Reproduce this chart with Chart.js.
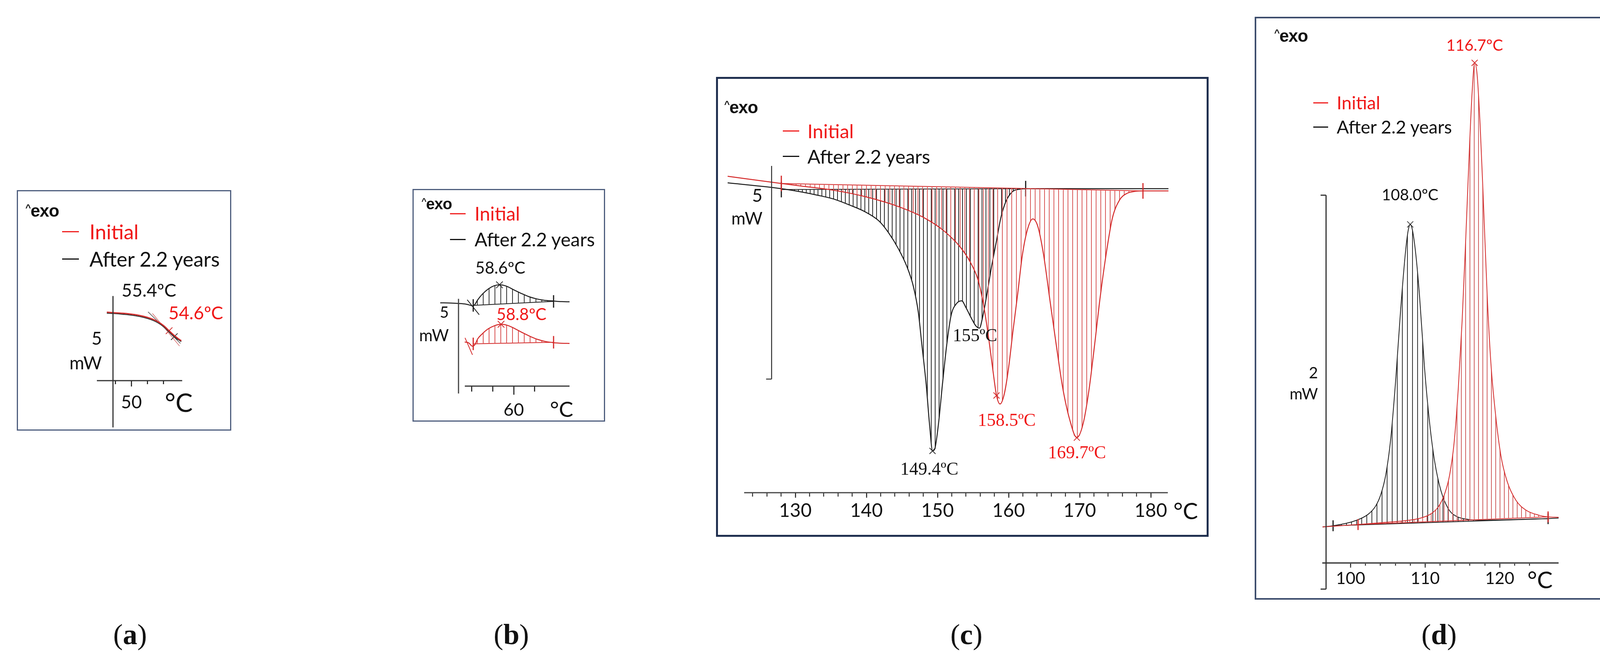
<!DOCTYPE html>
<html>
<head>
<meta charset="utf-8">
<script src="https://cdn.jsdelivr.net/npm/chart.js@4.4.1/dist/chart.umd.min.js"></script>
<style>
  body { margin: 0; background: #fff; width: 4150px; height: 1688px; position: relative; overflow: hidden; font-family: Lato, "Liberation Sans", sans-serif; }
  canvas { position: absolute; }
  .box { position: absolute; box-sizing: border-box; pointer-events: none; }
  .t { position: absolute; white-space: nowrap; line-height: 1; }
  .dash { position: absolute; height: 3px; }
  .exo { font-family: "Liberation Sans", sans-serif; font-weight: bold; letter-spacing: -1px; }
  .exo span { font-size: 0.55em; vertical-align: 0.6em; }
  .pl { font-family: "Liberation Serif", serif; }
</style>
</head>
<body>
<script>
// ---------- (a) ----------
const tempA = [46.92, 47.80, 48.90, 50.44, 51.54, 52.42, 53.30, 54.07, 54.73, 55.38, 55.93, 56.26];
const initialA = [0.02, 0, -0.02, -0.073, -0.14, -0.22, -0.34, -0.5, -0.687, -0.867, -1.0, -1.067];
const agedA = [-0.02, -0.033, -0.06, -0.113, -0.18, -0.26, -0.38, -0.54, -0.727, -0.913, -1.033, -1.1];
const tangentInitialA = [[52.64, -0.03], [56.04, -1.27]];
const tangentAgedA = [[52.09, 0.03], [56.15, -1.17]];
const peaksA = [55.4, 54.6];
const peakLabelsA = ['55.4ºC', '54.6ºC'];
const majorTicksA = [50];

// ---------- (b) ----------
const tempB_aged = [53.0, 54.0, 54.71, 55.43, 55.86, 56.11, 56.29, 56.57, 57.0, 57.57, 58.14, 58.64, 59.29, 60.0, 60.71, 61.43, 62.14, 62.86, 63.79, 64.57, 65.31];
const flowB_aged = [-0.032, -0.042, -0.063, -0.10, -0.16, -0.20, -0.12, 0.127, 0.42, 0.70, 0.87, 0.92, 0.85, 0.655, 0.465, 0.296, 0.18, 0.106, 0.063, 0.032, 0.021];
const tempB_initial = [55.33, 55.71, 56.07, 56.29, 56.57, 57.0, 57.57, 58.14, 58.79, 59.43, 60.14, 60.86, 61.57, 62.29, 63.0, 63.79, 64.57, 65.31];
const flowB_initial = [-2.10, -2.15, -2.32, -2.25, -1.934, -1.67, -1.406, -1.247, -1.163, -1.226, -1.406, -1.617, -1.808, -1.966, -2.072, -2.135, -2.167, -2.178];
const baseB_aged = [[56.14, -0.169], [63.79, 0.042]];
const baseB_initial = [[56.14, -2.199], [63.79, -2.114]];
const tangentB_aged = [[55.57, 0.13], [56.71, -0.66]];
const tangentB_initial = [[55.36, -1.88], [56.07, -2.78]];
const peaksB = [58.6, 58.8];
const peakLabelsB = ['58.6ºC', '58.8ºC'];
const majorTicksB = [60];

// ---------- (c) ----------
const tempC_aged = [120.48, 128.03, 130.8, 133.1, 135.4, 137.6, 139.9, 141.8, 143.1, 144.5, 145.7, 146.6, 147.3, 147.8, 148.4, 148.9, 149.3, 149.6, 150.1, 150.7, 151.3, 151.9, 152.7, 153.4, 154.0, 154.8, 155.4, 155.9, 156.3, 156.9, 157.6, 158.3, 158.9, 159.6, 160.5, 161.5, 162.4, 182.5];
const flowC_aged = [0.137, 0.0, -0.076, -0.153, -0.244, -0.382, -0.55, -0.763, -1.03, -1.41, -1.83, -2.29, -2.90, -3.66, -4.58, -5.57, -6.15, -6.11, -5.57, -4.58, -3.66, -2.98, -2.69, -2.63, -2.79, -3.05, -3.22, -3.27, -3.05, -2.52, -1.83, -1.22, -0.69, -0.31, -0.076, -0.015, 0, 0];
const tempC_initial = [120.48, 128.03, 130.8, 135.4, 139.9, 144.5, 148.2, 150.9, 153.2, 154.6, 155.7, 156.5, 157.2, 157.8, 158.3, 158.8, 159.4, 160.0, 160.6, 161.3, 161.9, 162.6, 163.4, 164.1, 164.9, 165.8, 166.7, 167.6, 168.6, 169.6, 170.5, 171.3, 172.1, 172.9, 173.8, 174.6, 175.6, 176.6, 177.9, 178.9, 182.5];
const flowC_initial = [0.29, 0.122, 0.061, -0.038, -0.19, -0.42, -0.69, -0.99, -1.37, -1.72, -2.14, -2.75, -3.51, -4.27, -4.85, -5.05, -4.81, -4.20, -3.36, -2.44, -1.60, -0.99, -0.71, -0.88, -1.53, -2.60, -3.66, -4.66, -5.42, -5.84, -5.50, -4.73, -3.66, -2.52, -1.45, -0.69, -0.27, -0.115, -0.061, -0.053, -0.053];
const baseC_aged = [[128.03, -0.02], [162.4, 0]];
const baseC_initial = [[128.03, 0.122], [178.9, -0.053]];
const peaksC_aged = [149.4, 155];
const peaksC_initial = [158.5, 169.7];
const peakLabelsC = ['149.4ºC', '155ºC', '158.5ºC', '169.7ºC'];
const majorTicksC = [130, 140, 150, 160, 170, 180];

// ---------- (d) ----------
const tempD_aged = [96.24, 97.65, 98.99, 100.67, 102.35, 103.36, 104.03, 104.71, 105.38, 106.05, 106.72, 107.39, 107.73, 108.0, 108.3, 108.74, 109.24, 109.92, 110.59, 111.26, 112.1, 113.11, 114.12, 115.8, 117.48, 120.84, 124.2, 126.49, 127.9];
const flowD_aged = [-0.006, 0, 0.009, 0.026, 0.058, 0.10, 0.156, 0.257, 0.44, 0.74, 1.10, 1.40, 1.50, 1.53, 1.50, 1.38, 1.17, 0.80, 0.525, 0.33, 0.18, 0.086, 0.049, 0.032, 0.028, 0.03, 0.034, 0.036, 0.039];
const tempD_initial = [96.24, 101.0, 104.03, 107.39, 109.41, 110.76, 111.77, 112.6, 113.28, 113.88, 114.45, 114.96, 115.46, 115.9, 116.3, 116.64, 116.97, 117.38, 117.82, 118.32, 118.82, 119.43, 120.17, 121.0, 122.18, 123.53, 125.21, 126.49, 127.9];
const flowD_initial = [-0.006, 0.006, 0.015, 0.026, 0.039, 0.06, 0.096, 0.16, 0.257, 0.42, 0.70, 1.04, 1.47, 1.88, 2.20, 2.35, 2.29, 2.03, 1.64, 1.17, 0.825, 0.57, 0.354, 0.225, 0.129, 0.079, 0.054, 0.045, 0.043];
const baseD_aged = [[97.65, 0], [126.49, 0.036]];
const baseD_initial = [[101.0, 0.006], [126.49, 0.045]];
const peaksD = [108.0, 116.7];
const peakLabelsD = ['108.0ºC', '116.7ºC'];
const majorTicksD = [100, 110, 120];

// ---------- helpers ----------
const RED = '#d42a2a', RED_TXT = '#f01818', BLK = '#1c1c1c';
const TICK_FONT = '"Liberation Sans Narrow", Lato, sans-serif';
const pts = (xs, ys) => xs.map((x, i) => ({x, y: ys[i]}));
const seg = pairs => pairs.map(([x, y]) => ({x, y}));
function nearest(xs, ys, t) {
  let k = 0;
  xs.forEach((x, i) => { if (Math.abs(x - t) < Math.abs(xs[k] - t)) k = i; });
  return {x: xs[k], y: ys[k]};
}
function stripes(color, gap, w) {
  const c = document.createElement('canvas');
  c.width = gap; c.height = 8;
  const g = c.getContext('2d');
  g.fillStyle = color;
  g.fillRect(0, 0, w, 8);
  return g.createPattern(c, 'repeat');
}
function curve(data, color, width, target, pattern) {
  return {data, borderColor: color, borderWidth: width, pointRadius: 0, cubicInterpolationMode: 'monotone',
    backgroundColor: pattern || 'transparent',
    fill: target == null ? false : {target, above: pattern, below: pattern}};
}
function baseline(data, color, mark) {
  return {data, borderColor: color, borderWidth: 2, pointStyle: 'line', rotation: 90, pointRadius: mark,
    pointBorderColor: color, pointBorderWidth: 3, fill: false};
}
function plain(data, color, width) {
  return {data, borderColor: color, borderWidth: width, pointRadius: 0, fill: false};
}
function crosses(data, color, r) {
  return {data, showLine: false, pointStyle: 'crossRot', pointRadius: r, pointBorderColor: color,
    pointBorderWidth: 2, borderColor: color, fill: false};
}

function marks(m) {
  return {
    id: 'marks',
    afterDatasetsDraw(chart) {
      const {ctx, chartArea} = chart;
      const x = chart.scales.x, y = chart.scales.y;
      ctx.save();
      ctx.lineCap = 'butt';
      ctx.strokeStyle = m.axis.color; ctx.lineWidth = m.axis.width;
      ctx.beginPath();
      ctx.moveTo(x.getPixelForValue(m.axis.from), chartArea.bottom);
      ctx.lineTo(x.getPixelForValue(m.axis.to), chartArea.bottom);
      ctx.stroke();
      // scale bar (its length is the mW value written beside it)
      const bx = x.getPixelForValue(m.bar.x);
      const b0 = y.getPixelForValue(m.bar.top), b1 = y.getPixelForValue(m.bar.top - m.bar.span);
      ctx.strokeStyle = m.bar.color; ctx.lineWidth = m.bar.width;
      ctx.beginPath();
      ctx.moveTo(bx, b0); ctx.lineTo(bx, b1);
      if (m.bar.capTop) { ctx.moveTo(bx, b0); ctx.lineTo(bx - m.bar.capTop, b0); }
      if (m.bar.capBottom) { ctx.moveTo(bx, b1); ctx.lineTo(bx - m.bar.capBottom, b1); }
      ctx.stroke();
      ctx.textAlign = 'center'; ctx.textBaseline = 'middle';
      m.labels.forEach(l => {
        ctx.font = l.font; ctx.fillStyle = l.color;
        ctx.fillText(l.text, x.getPixelForValue(l.x), y.getPixelForValue(l.y));
      });
      ctx.restore();
    }
  };
}

function panel(p) {
  const cv = document.createElement('canvas');
  const [L, T, W, H] = p.box;
  cv.width = W; cv.height = H;
  Object.assign(cv.style, {left: L + 'px', top: T + 'px', width: W + 'px', height: H + 'px'});
  document.body.appendChild(cv);
  const bottom = p.pad.bottom;
  new Chart(cv, {
    type: 'line',
    data: {datasets: p.datasets},
    options: {
      responsive: false, animation: false, devicePixelRatio: 1,
      layout: {padding: {left: p.pad.left, right: p.pad.right, top: p.pad.top, bottom: 0}},
      plugins: {legend: {display: false}, tooltip: {enabled: false}},
      scales: {
        x: {type: 'linear', weight: 0, min: p.xr[0], max: p.xr[1], border: {display: false},
          grid: {drawOnChartArea: false, tickLength: p.ticks.minor, tickWidth: p.ticks.width, tickColor: p.ticks.color},
          ticks: {display: false, stepSize: 2},
          afterBuildTicks: s => { s.ticks = s.ticks.filter(t => t.value >= p.ticks.from - 1e-6 && t.value <= p.ticks.to + 1e-6 && Math.abs(t.value % 2) < 1e-6); },
          afterFit: s => { s.height = 0; s.paddingLeft = 0; s.paddingRight = 0; }},
        x2: {type: 'linear', weight: 1, position: 'bottom', min: p.xr[0], max: p.xr[1], border: {display: false},
          grid: {drawOnChartArea: false, tickLength: p.ticks.major, tickWidth: p.ticks.width, tickColor: p.ticks.color},
          ticks: {autoSkip: false, maxRotation: 0, padding: p.ticks.pad, color: '#111', font: {family: TICK_FONT, size: p.ticks.font}},
          afterBuildTicks: s => { s.ticks = p.majorTicks.map(v => ({value: v})); },
          afterFit: s => { s.height = bottom; s.paddingLeft = 0; s.paddingRight = 0; }},
        y: {type: 'linear', display: false, min: p.yr[0], max: p.yr[1], ticks: {display: false}}
      }
    },
    plugins: [marks(p.marks)]
  });
  const b = document.createElement('div');
  b.className = 'box';
  Object.assign(b.style, {left: L + 'px', top: T + 'px', width: W + 'px', height: H + 'px', border: p.border});
  document.body.appendChild(b);
}

function txt(x, y, html, size, opts = {}) {
  const d = document.createElement('div');
  d.className = 't ' + (opts.cls || '');
  d.innerHTML = html;
  const tx = opts.align === 'right' ? '-100%' : opts.align === 'center' ? '-50%' : '0';
  Object.assign(d.style, {left: x + 'px', top: y + 'px', fontSize: size + 'px', color: opts.color || '#111',
    transform: `translate(${tx}, -50%)`});
  document.body.appendChild(d);
}
function dash(x0, x1, y, color) {
  const d = document.createElement('div');
  d.className = 'dash';
  Object.assign(d.style, {left: x0 + 'px', top: (y - 1.5) + 'px', width: (x1 - x0) + 'px', background: color});
  document.body.appendChild(d);
}
function legendBlock(exo, dx0, dx1, tx, yR, yB, size) {
  txt(exo[0], exo[1], '<span>^</span>exo', exo[2], {cls: 'exo'});
  dash(dx0, dx1, yR, '#f02020'); txt(tx, yR, 'Initial', size, {color: RED_TXT});
  dash(dx0, dx1, yB, '#111'); txt(tx, yB, 'After 2.2 years', size);
}

// ---------- panel (a) ----------
panel({
  box: [43, 487, 549, 616], pad: {left: 205, right: 125, top: 213, bottom: 128},
  xr: [45.67, 56.4], yr: [-2.587, 1.499], majorTicks: majorTicksA,
  ticks: {minor: 9, major: 15, width: 3, color: '#333', pad: 14, font: 46, from: 46, to: 56},
  border: '3px solid #4e5e7e',
  datasets: [
    curve(pts(tempA, initialA), RED, 3),
    curve(pts(tempA, agedA), '#333', 2.5),
    plain(seg(tangentInitialA), '#d46060', 1.5),
    plain(seg(tangentAgedA), '#555', 1.5),
    crosses([nearest(tempA, agedA, peaksA[0])], '#333', 12),
    crosses([nearest(tempA, initialA, peaksA[1])], RED, 12)
  ],
  marks: {
    axis: {from: 45.67, to: 56.37, color: '#333', width: 3},
    bar: {x: 47.69, top: 0.633, span: 5, color: '#333', width: 3},
    labels: [
      {text: peakLabelsA[0], x: 52.2, y: 0.83, color: '#111', font: '46px Lato'},
      {text: peakLabelsA[1], x: 58.08, y: -0.03, color: RED_TXT, font: '46px Lato'}
    ]
  }
});
legendBlock([65, 540, 44], 159, 202, 229, 593, 663, 52);
txt(261, 866, '5', 46, {align: 'right'});
txt(261, 929, 'mW', 46, {align: 'right'});
txt(422, 1030, '°C', 66);

// ---------- panel (b) ----------
const patB_red = stripes('#d85050', 15, 2), patB_blk = stripes('#333', 15, 2);
panel({
  box: [1056, 484, 493, 596], pad: {left: 71, right: 91, top: 216, bottom: 91},
  xr: [53.0, 65.31], yr: [-4.43, 1.528], majorTicks: majorTicksB,
  ticks: {minor: 14, major: 22, width: 3, color: '#333', pad: 12, font: 45, from: 56, to: 64},
  border: '3px solid #4e5e7e',
  datasets: [
    curve(pts(tempB_initial, flowB_initial), RED, 2.5, 1, patB_red),
    baseline(seg(baseB_initial), RED, 16),
    curve(pts(tempB_aged, flowB_aged), BLK, 2.5, 3, patB_blk),
    baseline(seg(baseB_aged), BLK, 16),
    plain(seg(tangentB_initial), RED, 2),
    plain(seg(tangentB_aged), BLK, 2),
    crosses([nearest(tempB_aged, flowB_aged, peaksB[0])], '#333', 12),
    crosses([nearest(tempB_initial, flowB_initial, peaksB[1])], RED, 12)
  ],
  marks: {
    axis: {from: 55.34, to: 65.31, color: '#333', width: 3},
    bar: {x: 54.74, top: 0.18, span: 5, color: '#444', width: 3},
    labels: [
      {text: peakLabelsB[0], x: 58.72, y: 1.796, color: '#111', font: '42px Lato'},
      {text: peakLabelsB[1], x: 60.73, y: -0.658, color: RED_TXT, font: '42px Lato'}
    ]
  }
});
legendBlock([1079, 522, 40], 1152, 1192, 1215, 547, 613, 48);
txt(1149, 799, '5', 40, {align: 'right'});
txt(1149, 858, 'mW', 42, {align: 'right'});
txt(1408, 1047, '°C', 55);

// ---------- panel (c) ----------
const patC_red = stripes('#d95a5a', 12, 2), patC_blk = stripes('#2a2a2a', 10, 2);
panel({
  box: [1833, 197, 1261, 1178], pad: {left: 26.5, right: 102.5, top: 35, bottom: 113},
  xr: [120.3, 182.5], yr: [-7.13, 2.3], majorTicks: majorTicksC,
  ticks: {minor: 10, major: 13, width: 2.5, color: '#333', pad: 5, font: 48, from: 124, to: 182},
  border: '5px solid #1f2f4f',
  datasets: [
    curve(pts(tempC_initial, flowC_initial), RED, 2.5, 1, patC_red),
    baseline(seg(baseC_initial), RED, 20),
    curve(pts(tempC_aged, flowC_aged), BLK, 2.5, 3, patC_blk),
    baseline(seg(baseC_aged), BLK, 20),
    crosses([nearest(tempC_aged, flowC_aged, peaksC_aged[0])], '#333', 11),
    crosses(peaksC_initial.map(t => nearest(tempC_initial, flowC_initial, t)), RED, 11)
  ],
  marks: {
    axis: {from: 122.8, to: 182.4, color: '#444', width: 3},
    bar: {x: 126.66, top: 0.534, span: 5, color: '#333', width: 2.5, capBottom: 14},
    labels: [
      {text: peakLabelsC[0], x: 148.85, y: -6.60, color: '#111', font: '46px "Liberation Serif"'},
      {text: peakLabelsC[1], x: 155.27, y: -3.47, color: '#111', font: '46px "Liberation Serif"'},
      {text: peakLabelsC[2], x: 159.73, y: -5.455, color: RED_TXT, font: '46px "Liberation Serif"'},
      {text: peakLabelsC[3], x: 169.62, y: -6.215, color: RED_TXT, font: '46px "Liberation Serif"'}
    ]
  }
});
legendBlock([1854, 275, 44], 2004, 2046, 2067, 335, 400, 49);
txt(1952, 500, '5', 46, {align: 'right'});
txt(1952, 558, 'mW', 44, {align: 'right'});
txt(3004, 1308, '°C', 58);

// ---------- panel (d) ----------
const patD_red = stripes('#d06060', 11, 2), patD_blk = stripes('#333', 13, 2);
panel({
  box: [3212, 43, 910, 1493], pad: {left: 173, right: 132, top: 17, bottom: 94},
  xr: [96.2, 127.9], yr: [-0.189, 2.55], majorTicks: majorTicksD,
  ticks: {minor: 7, major: 12, width: 2.5, color: '#333', pad: 2, font: 43, from: 98, to: 126},
  border: '4px solid #3c4c6c',
  datasets: [
    curve(pts(tempD_initial, flowD_initial), RED, 2, 1, patD_red),
    baseline(seg(baseD_initial), RED, 14),
    curve(pts(tempD_aged, flowD_aged), BLK, 2, 3, patD_blk),
    baseline(seg(baseD_aged), BLK, 14),
    crosses([nearest(tempD_aged, flowD_aged, peaksD[0])], '#444', 11),
    crosses([nearest(tempD_initial, flowD_initial, peaksD[1])], RED, 11)
  ],
  marks: {
    axis: {from: 96.2, to: 127.9, color: '#555', width: 4},
    bar: {x: 96.71, top: 1.678, span: 2, color: '#333', width: 3, capTop: 14, capBottom: 14},
    labels: [
      {text: peakLabelsD[0], x: 107.98, y: 1.678, color: '#111', font: '40px Lato'},
      {text: peakLabelsD[1], x: 116.64, y: 2.437, color: RED_TXT, font: '40px Lato'}
    ]
  }
});
legendBlock([3262, 92, 44], 3362, 3400, 3422, 263, 325, 46);
txt(3374, 954, '2', 40, {align: 'right'});
txt(3374, 1008, 'mW', 40, {align: 'right'});
txt(3910, 1484, '°C', 60);

// panel letters
[['a', 333], ['b', 1309], ['c', 2474], ['d', 3684]].forEach(([k, x]) =>
  txt(x, 1625, `(<b>${k}</b>)`, 74, {align: 'center', cls: 'pl'}));
</script>
</body>
</html>
